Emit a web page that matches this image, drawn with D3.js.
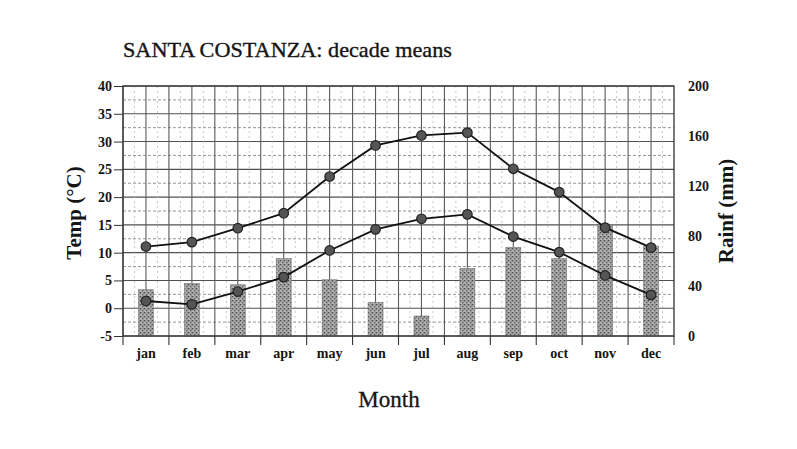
<!DOCTYPE html>
<html lang="en">
  <head>
    <meta charset="utf-8" />
    <title>Santa Costanza: decade means</title>
    <script src="https://d3js.org/d3.v7.min.js"></script>
    <style type="text/css">
      body { margin: 0; background: #fff; }
      text { font-family: "Liberation Serif", "DejaVu Serif", serif; fill: #151515; }
    </style>
  </head>
  <body>
    <script type="text/javascript">
      // Data
      const months = ["jan", "feb", "mar", "apr", "may", "jun", "jul", "aug", "sep", "oct", "nov", "dec"];
      const tempMax = [11.1, 11.9, 14.4, 17.1, 23.7, 29.3, 31.1, 31.6, 25.1, 20.9, 14.5, 10.9];
      const tempMin = [1.3, 0.7, 3.0, 5.6, 10.4, 14.2, 16.1, 16.9, 12.9, 10.1, 5.9, 2.4];
      const rainfall = [37, 42, 41, 62, 45, 27, 16, 54, 71, 62, 89, 72];
      const tempTicks = [-5, 0, 5, 10, 15, 20, 25, 30, 35, 40];
      const rainTicks = [0, 40, 80, 120, 160, 200];

      //Width and height
      const w = 797;
      const h = 449;
      const plotL = 123, plotR = 674, plotT = 86, plotB = 336;

      const xScale = d3.scaleBand().domain(months).range([plotL, plotR]).padding(0);
      const bw = xScale.bandwidth();
      const yTemp = d3.scaleLinear().domain([-5, 40]).range([plotB, plotT]);
      const yRain = d3.scaleLinear().domain([0, 200]).range([plotB, plotT]);

      // plain hyphen for negatives, as in the print
      const plain = function (d) { return String(d); };

      const svg = d3.select("body").append("svg").attr("width", w).attr("height", h);

      // stippled fill for bars
      const pat = svg.append("defs").append("pattern")
        .attr("id", "stipple").attr("patternUnits", "userSpaceOnUse")
        .attr("width", 4).attr("height", 4);
      pat.append("rect").attr("width", 4).attr("height", 4).attr("fill", "#a9a9a9");
      pat.append("rect").attr("x", 0).attr("y", 0).attr("width", 1.3).attr("height", 1.3).attr("fill", "#4a4a4a");
      pat.append("rect").attr("x", 2).attr("y", 2).attr("width", 1.3).attr("height", 1.3).attr("fill", "#5a5a5a");
      pat.append("rect").attr("x", 3).attr("y", 0.5).attr("width", 0.9).attr("height", 0.9).attr("fill", "#6a6a6a");
      pat.append("rect").attr("x", 0.8).attr("y", 2.8).attr("width", 0.8).attr("height", 0.8).attr("fill", "#d8d8d8");

      //Grid: horizontal lines
      const grid = svg.append("g");
      d3.range(-2.5, 40, 5).forEach(function (v) {
        grid.append("line")
          .attr("x1", plotL).attr("x2", plotR)
          .attr("y1", yTemp(v)).attr("y2", yTemp(v))
          .attr("stroke", "#8a8a8a").attr("stroke-width", 0.9)
          .attr("stroke-dasharray", "3,2");
      });
      tempTicks.forEach(function (v) {
        grid.append("line")
          .attr("x1", plotL).attr("x2", plotR)
          .attr("y1", yTemp(v)).attr("y2", yTemp(v))
          .attr("stroke", "#505050").attr("stroke-width", 1.1);
      });

      //Grid: vertical lines at half months, lighter dashed ones between
      d3.range(0, 48).forEach(function (q) {
        const x = plotL + (q * bw) / 4;
        const solid = q % 2 === 0;
        grid.append("line")
          .attr("x1", x).attr("x2", x)
          .attr("y1", plotT).attr("y2", plotB)
          .attr("stroke", solid ? "#5a5a5a" : "#b0b0b0")
          .attr("stroke-width", solid ? 1.1 : 0.7)
          .attr("stroke-dasharray", solid ? null : "2,3");
      });

      //Rainfall bars
      svg.selectAll("rect.bar")
        .data(rainfall)
        .enter()
        .append("rect")
        .attr("class", "bar")
        .attr("x", function (d, i) { return xScale(months[i]) + bw / 2 - 7.5; })
        .attr("y", function (d) { return yRain(d); })
        .attr("width", 15)
        .attr("height", function (d) { return plotB - yRain(d); })
        .attr("fill", "url(#stipple)")
        .attr("stroke", "#7a7a7a")
        .attr("stroke-width", 0.6);

      //Frame
      svg.append("rect")
        .attr("x", plotL).attr("y", plotT)
        .attr("width", plotR - plotL).attr("height", plotB - plotT)
        .attr("fill", "none").attr("stroke", "#333").attr("stroke-width", 1.3);

      //Axes
      const xAxis = d3.axisBottom(xScale).tickSize(0).tickPadding(12);
      const gx = svg.append("g").attr("transform", "translate(0," + plotB + ")").call(xAxis);
      gx.select(".domain").remove();
      gx.selectAll("text").attr("font-size", 14).attr("font-weight", "bold")
        .style("font-family", "'Liberation Serif', serif").attr("fill", "#151515");
      // month boundary ticks below the axis
      d3.range(0, 13).forEach(function (i) {
        gx.append("line")
          .attr("x1", plotL + i * bw).attr("x2", plotL + i * bw)
          .attr("y1", 0).attr("y2", 9)
          .attr("stroke", "#333").attr("stroke-width", 1.1);
      });

      const yAxisL = d3.axisLeft(yTemp).tickValues(tempTicks).tickFormat(plain).tickSize(9).tickPadding(2);
      const gl = svg.append("g").attr("transform", "translate(" + plotL + ",0)").call(yAxisL);
      gl.select(".domain").remove();
      gl.selectAll("line").attr("stroke", "#333");
      gl.selectAll("text").attr("font-size", 14).attr("font-weight", "bold")
        .style("font-family", "'Liberation Serif', serif").attr("fill", "#151515");

      const yAxisR = d3.axisRight(yRain).tickValues(rainTicks).tickFormat(plain).tickSize(0).tickPadding(14);
      const gr = svg.append("g").attr("transform", "translate(" + plotR + ",0)").call(yAxisR);
      gr.select(".domain").remove();
      gr.selectAll("text").attr("font-size", 14).attr("font-weight", "bold")
        .style("font-family", "'Liberation Serif', serif").attr("fill", "#151515");

      //Temperature lines
      const line = d3.line()
        .x(function (d, i) { return xScale(months[i]) + bw / 2; })
        .y(function (d) { return yTemp(d); });

      [tempMax, tempMin].forEach(function (series) {
        svg.append("path")
          .datum(series)
          .attr("d", line)
          .attr("fill", "none")
          .attr("stroke", "#111")
          .attr("stroke-width", 1.8);
        svg.append("g").selectAll("circle")
          .data(series)
          .enter()
          .append("circle")
          .attr("cx", function (d, i) { return xScale(months[i]) + bw / 2; })
          .attr("cy", function (d) { return yTemp(d); })
          .attr("r", 4.8)
          .attr("fill", "#555")
          .attr("stroke", "#222")
          .attr("stroke-width", 1.2);
      });

      //Titles
      svg.append("text")
        .attr("x", 123).attr("y", 57)
        .attr("font-size", 21)
        .attr("stroke", "#151515").attr("stroke-width", 0.35)
        .attr("textLength", 329).attr("lengthAdjust", "spacingAndGlyphs")
        .text("SANTA COSTANZA: decade means");

      svg.append("text")
        .attr("transform", "translate(81,213) rotate(-90)")
        .attr("text-anchor", "middle")
        .attr("font-size", 21).attr("font-weight", "bold")
        .text("Temp (°C)");

      svg.append("text")
        .attr("transform", "translate(733,211) rotate(-90)")
        .attr("text-anchor", "middle")
        .attr("font-size", 21).attr("font-weight", "bold")
        .text("Rainf (mm)");

      svg.append("text")
        .attr("x", 389).attr("y", 407)
        .attr("text-anchor", "middle")
        .attr("font-size", 23)
        .attr("stroke", "#151515").attr("stroke-width", 0.3)
        .text("Month");
    </script>
  </body>
</html>
